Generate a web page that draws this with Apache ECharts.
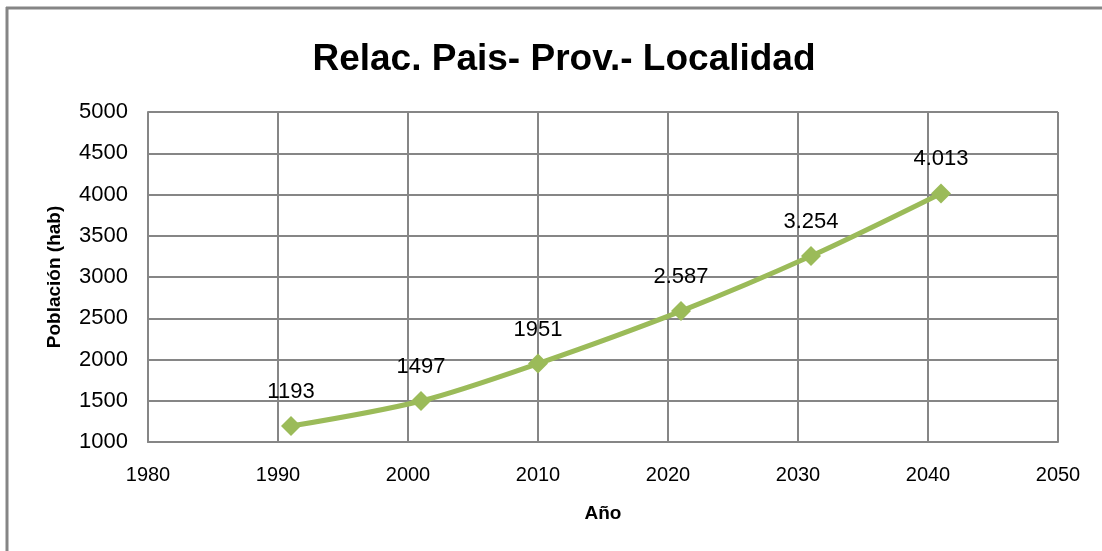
<!DOCTYPE html>
<html>
<head>
<meta charset="utf-8">
<script src="https://cdn.jsdelivr.net/npm/echarts@6/dist/echarts.min.js"></script>
<style>
html,body{margin:0;padding:0;background:#fff;}
#c{width:1102px;height:551px;}
</style>
</head>
<body>
<div id="c"></div>
<script>
var years = [1991, 2001, 2010, 2021, 2031, 2041];
var population = [1193, 1497, 1951, 2587, 3254, 4013];
var pointLabels = ['1193', '1497', '1951', '2.587', '3.254', '4.013'];
var xTicks = [1980, 1990, 2000, 2010, 2020, 2030, 2040, 2050];
var yTicks = [1000, 1500, 2000, 2500, 3000, 3500, 4000, 4500, 5000];

var chart = echarts.init(document.getElementById('c'));
var gridColor = '#868686';
chart.setOption({
  animation: false,
  backgroundColor: '#fff',
  title: {
    text: 'Relac. Pais- Prov.- Localidad',
    left: 559, top: 36, textAlign: 'center',
    textStyle: {fontFamily: 'Liberation Sans', fontWeight: 'bold', fontSize: 37, color: '#000'}
  },
  graphic: [
    {type: 'line', shape: {x1: 6, y1: 8, x2: 1102, y2: 8}, style: {stroke: '#858585', lineWidth: 3}},
    {type: 'line', shape: {x1: 7, y1: 7, x2: 7, y2: 551}, style: {stroke: '#858585', lineWidth: 3}}
  ],
  grid: {left: 148, right: 44, top: 112, bottom: 109, containLabel: false},
  xAxis: {
    type: 'value', min: xTicks[0], max: xTicks[xTicks.length - 1], interval: 10,
    name: 'Año', nameLocation: 'middle', nameGap: 62,
    nameTextStyle: {fontFamily: 'Liberation Sans', fontWeight: 'bold', fontSize: 19, color: '#000'},
    axisLine: {show: true, lineStyle: {color: gridColor, width: 2}},
    axisTick: {show: false},
    axisLabel: {fontFamily: 'Liberation Sans', fontSize: 20, color: '#000', margin: 23,
      formatter: function (v) { return String(v); }},
    splitLine: {show: true, lineStyle: {color: gridColor, width: 2}}
  },
  yAxis: {
    type: 'value', min: yTicks[0], max: yTicks[yTicks.length - 1], interval: 500,
    name: 'Población (hab)', nameLocation: 'middle', nameGap: 84, nameRotate: 90,
    nameTextStyle: {fontFamily: 'Liberation Sans', fontWeight: 'bold', fontSize: 19, color: '#000'},
    axisLine: {show: true, lineStyle: {color: gridColor, width: 2}},
    axisTick: {show: false},
    axisLabel: {fontFamily: 'Liberation Sans', fontSize: 22, color: '#000', margin: 20,
      formatter: function (v) { return String(v); }},
    splitLine: {show: true, lineStyle: {color: gridColor, width: 2}}
  },
  series: [{
    type: 'line',
    data: years.map(function (y, i) { return [y, population[i]]; }),
    smooth: 0.3,
    symbol: 'diamond', symbolSize: 20,
    lineStyle: {color: '#9BBB59', width: 5},
    itemStyle: {color: '#9BBB59'},
    label: {
      show: true, position: 'top', distance: 13,
      fontFamily: 'Liberation Sans', fontSize: 22, color: '#000',
      formatter: function (p) { return pointLabels[p.dataIndex]; }
    }
  }]
});
</script>
</body>
</html>
